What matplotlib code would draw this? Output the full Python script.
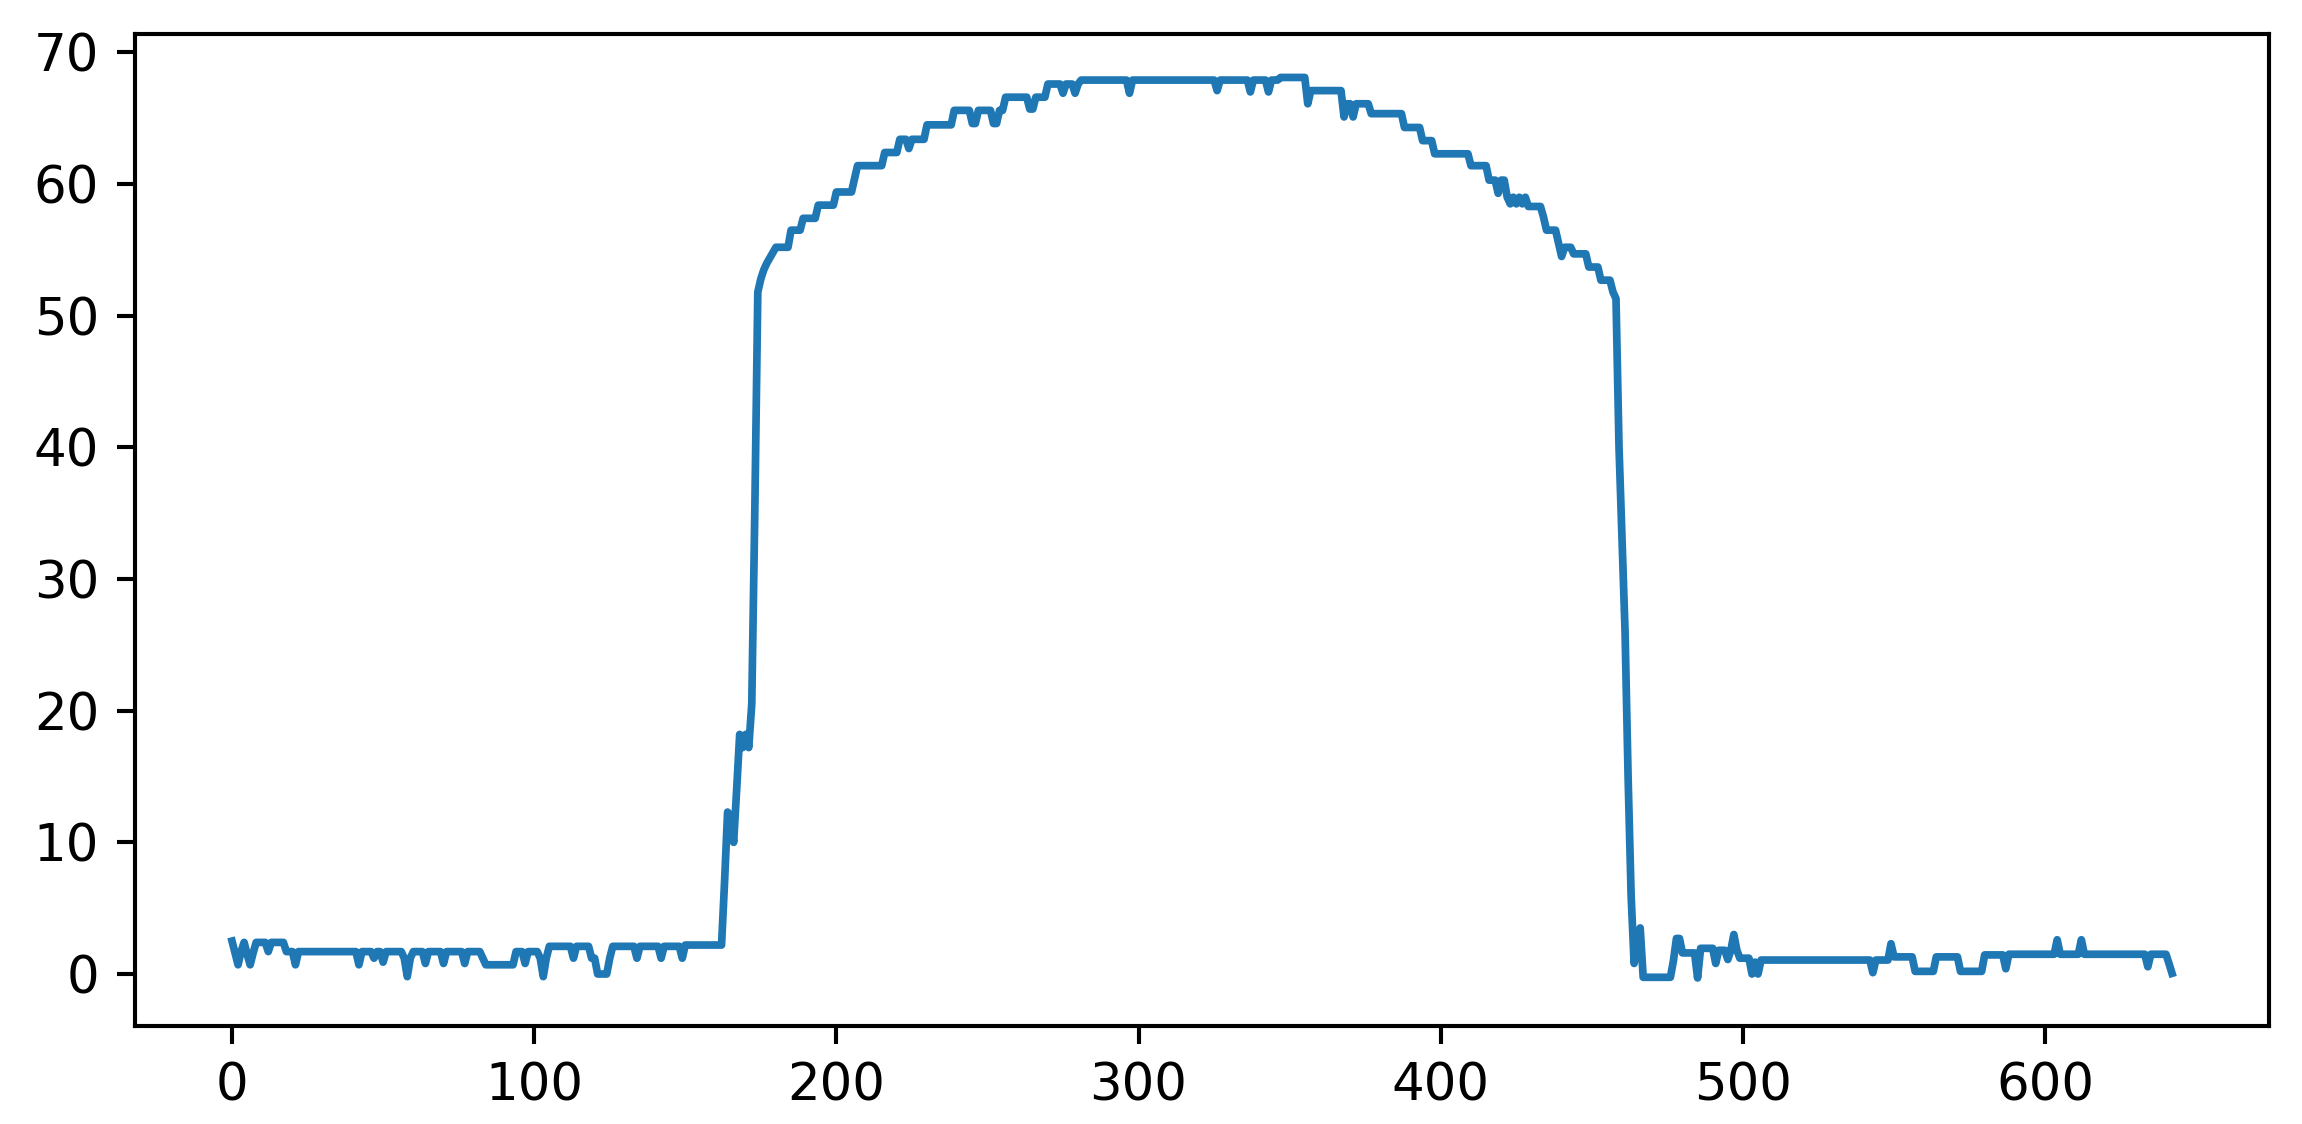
import numpy as np
import matplotlib
matplotlib.use("Agg")
import matplotlib.pyplot as plt

# ~~~~~~~~ data (value, run length) ~~~~~~~~
# low level before the jump, x = 0..161
left_vals = [2.5, 1.6, 0.7, 1.7, 2.4, 1.5, 0.7, 1.6, 2.4, 1.7, 2.4, 1.7, 0.7, 1.7,
             0.7, 1.7, 1.2, 1.7, 0.9, 1.7, 1.2, -0.2, 1.2, 1.7, 0.8, 1.7, 0.8, 1.7,
             0.8, 1.7, 1.2, 0.7, 1.7, 0.8, 1.7, 1.2, -0.2, 1.2, 2.1, 1.2, 2.1, 1.2,
             0.0, 1.2, 2.1, 1.2, 2.1, 1.2, 2.1, 1.2, 2.2]
left_runs = [1, 1, 1, 1, 1, 1, 1, 1, 4, 1, 5, 3, 1, 20,
             1, 4, 1, 2, 1, 6, 1, 1, 1, 4, 1, 5, 1, 6,
             1, 5, 1, 10, 3, 1, 4, 1, 1, 1, 8, 1, 5, 2,
             4, 1, 8, 1, 7, 1, 6, 1, 12]

# the jump, x = 162..180
rise_vals = [2.2, 7.0, 12.3, 12.0, 10.0, 14.0, 18.2, 17.2, 18.2, 17.2, 20.5,
             35.0, 51.8, 52.8, 53.5, 54.0, 54.4, 54.8, 55.2]

# top part, x = 181..457
top_vals = [55.2, 56.5, 57.4, 58.4, 59.4, 60.4, 61.4, 62.4, 63.4, 62.7, 63.4,
            64.5, 65.6, 64.6, 65.6, 64.6, 65.6, 66.6, 65.7, 66.6,
            67.6, 66.9, 67.6, 66.9, 67.6,
            67.9, 66.9, 67.9, 67.1, 67.9, 67.0, 67.9, 67.0, 67.9,
            68.1, 66.1, 67.1, 65.1, 66.1, 65.1, 66.1, 65.35, 64.3, 63.3, 62.3,
            61.4, 60.3, 59.3, 60.3, 59.0, 58.5, 59.0, 58.5, 59.0, 58.5, 59.0,
            58.3, 57.5, 56.5, 55.5, 54.5, 55.2, 54.7, 53.7, 52.7, 51.8]
top_runs = [4, 4, 5, 6, 6, 1, 9, 5, 3, 1, 5,
            9, 6, 2, 5, 2, 2, 8, 2, 4,
            5, 1, 3, 1, 1,
            16, 1, 28, 1, 10, 1, 5, 1, 3,
            9, 1, 11, 1, 2, 1, 5, 11, 6, 4, 12,
            6, 3, 1, 2, 1, 1, 1, 1, 1, 1, 1,
            5, 1, 4, 1, 1, 3, 5, 4, 4, 1]

# the drop, x = 458..466
fall_vals = [51.3, 40.0, 33.0, 26.0, 15.0, 6.0, 0.8, 2.2, 3.5]

# low level after the drop, x = 467..642
right_vals = [-0.25, 1.0, 2.7, 1.6, -0.3, 1.95, 0.8, 1.8, 1.1, 1.8, 3.0, 1.8,
              1.2, 0.0, 0.9, 0.0, 1.06, 0.1, 1.06, 2.3, 1.3, 0.2, 1.3, 0.2,
              1.45, 0.4, 1.5, 2.6, 1.5, 2.6, 1.5, 0.55, 1.5, 0.8, 0.05]
right_runs = [10, 1, 2, 5, 1, 5, 1, 3, 1, 1, 1, 1,
              4, 1, 1, 1, 37, 1, 5, 1, 7, 7, 8, 8,
              7, 1, 16, 1, 7, 1, 21, 1, 6, 1, 1]

y = np.concatenate([
    np.repeat(left_vals, left_runs),
    rise_vals,
    np.repeat(top_vals, top_runs),
    fall_vals,
    np.repeat(right_vals, right_runs),
])
x = np.arange(len(y))

# ~~~~~~~~ plot ~~~~~~~~
fig = plt.figure(figsize=(2302 / 370, 1124 / 370), dpi=370)
ax = fig.add_axes([0.05865, 0.08719, 0.92702, 0.88256])
ax.plot(x, y, color="#1f77b4", linewidth=1.5)

ax.set_xlim(-32.1, 674.1)
ax.set_ylim(-3.95, 71.4)
ax.set_xticks([0, 100, 200, 300, 400, 500, 600])
ax.set_yticks([0, 10, 20, 30, 40, 50, 60, 70])

fig.savefig("out.png", dpi=370)
